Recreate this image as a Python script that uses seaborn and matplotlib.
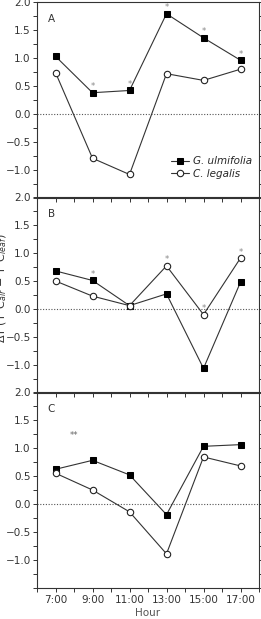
import numpy as np
import pandas as pd
import seaborn as sns
import matplotlib.pyplot as plt
from matplotlib.ticker import MultipleLocator, FixedLocator

hours = [7, 9, 11, 13, 15, 17]
hour_labels = ['7:00', '9:00', '11:00', '13:00', '15:00', '17:00']
panels = ['A', 'B', 'C']

# G. ulmifolia (filled squares)
gu_a = [1.03, 0.38, 0.42, 1.79, 1.36, 0.96]
gu_b = [0.68, 0.51, 0.06, 0.27, -1.06, 0.48]
gu_c = [0.62, 0.78, 0.52, -0.19, 1.03, 1.06]
# C. legalis (open circles)
cl_a = [0.74, -0.79, -1.08, 0.72, 0.60, 0.80]
cl_b = [0.50, 0.23, 0.06, 0.77, -0.10, 0.91]
cl_c = [0.55, 0.25, -0.14, -0.89, 0.84, 0.68]

# significance marks: (hour, value of marked point, label)
stars_a = [(9, 0.38, '*'), (11, 0.42, '*'), (13, 1.79, '*'), (15, 1.36, '*'), (17, 0.96, '*')]
stars_b = [(9, 0.51, '*'), (13, 0.77, '*'), (15, -0.10, '*'), (17, 0.91, '*')]
stars_c = []

sns.set_style('ticks')
plt.rcParams['font.family'] = ['DejaVu Sans']
plt.rcParams['font.size'] = 7.5

fig = plt.figure(figsize=(2.61, 6.19), dpi=100)
left, width, h = 37 / 261, 222 / 261, 196 / 619
bottoms = [1 - 198 / 619, 1 - 393 / 619, 1 - 588 / 619]

gu_all = [gu_a, gu_b, gu_c]
cl_all = [cl_a, cl_b, cl_c]
stars_all = [stars_a, stars_b, stars_c]

for i, name in enumerate(panels):
    ax = fig.add_axes([left, bottoms[i], width, h])
    ax.set_facecolor('none')
    ax.axhline(0, color='#555555', lw=0.8, ls=(0, (1, 1.5)), zorder=1)
    df = pd.DataFrame({'hour': hours, 'gu': gu_all[i], 'cl': cl_all[i]})
    sns.lineplot(data=df, x='hour', y='gu', ax=ax, color='#333333', lw=0.8,
                 marker='s', markersize=4, markerfacecolor='black',
                 markeredgecolor='black', label='G. ulmifolia', legend=False, zorder=3)
    sns.lineplot(data=df, x='hour', y='cl', ax=ax, color='#333333', lw=0.8,
                 marker='o', markersize=4.6, markerfacecolor='white',
                 markeredgecolor='#222222', markeredgewidth=0.8,
                 label='C. legalis', legend=False, zorder=3)
    for hx, hv, s in stars_all[i]:
        ax.annotate(s, (hx, hv), xytext=(0, 1.0), textcoords='offset points',
                    ha='center', va='bottom', fontsize=6, color='#888888')
    if name == 'C':
        ax.text(8, 1.22, '**', ha='center', va='center', fontsize=6, color='#666666')
    ax.text(0.065, 0.915, name, transform=ax.transAxes, fontsize=7.5,
            ha='center', va='center', color='#333333')

    ax.set_xlim(6, 18)
    ax.set_ylim(-1.5, 2.0)
    ax.xaxis.set_major_locator(FixedLocator(hours))
    ax.xaxis.set_minor_locator(MultipleLocator(1))
    ax.yaxis.set_major_locator(FixedLocator([-1.0, -0.5, 0.0, 0.5, 1.0, 1.5, 2.0]))
    ax.yaxis.set_minor_locator(MultipleLocator(0.25))
    ax.tick_params(axis='both', which='both', width=0.7, color='#333333',
                   labelcolor='#333333')
    ax.tick_params(axis='x', which='both', direction='out', length=3, pad=2)
    ax.tick_params(axis='y', which='both', direction='out', length=3,
                   right=True, labelright=False)
    ax.tick_params(axis='y', which='major', pad=1.5)
    ax.set_yticklabels(['\u22121.0', '\u22120.5', '0.0', '0.5', '1.0', '1.5', '2.0'])
    for sp in ax.spines.values():
        sp.set_visible(True)
        sp.set_linewidth(0.8)
        sp.set_color('#333333')
    ax.set_ylabel('')
    if name == 'C':
        ax.set_xticklabels(hour_labels)
        ax.set_xlabel('Hour', fontsize=7.5, color='#555555', labelpad=2)
    else:
        ax.set_xticklabels([])
        ax.set_xlabel('')
    if name == 'A':
        ax.legend(loc='lower right', bbox_to_anchor=(1.0, 0.06), frameon=False,
                  handlelength=1.8, handletextpad=0.3, labelspacing=0.25,
                  prop={'style': 'italic', 'size': 7.5}, borderaxespad=0.3)

fig.text(0.007, 0.535, r'$\Delta$T (T°C$_{air}$ $-$ T°C$_{leaf}$)', rotation=90,
         ha='center', va='center', fontsize=8, color='#333333')

fig.savefig('out.png', dpi=100)
